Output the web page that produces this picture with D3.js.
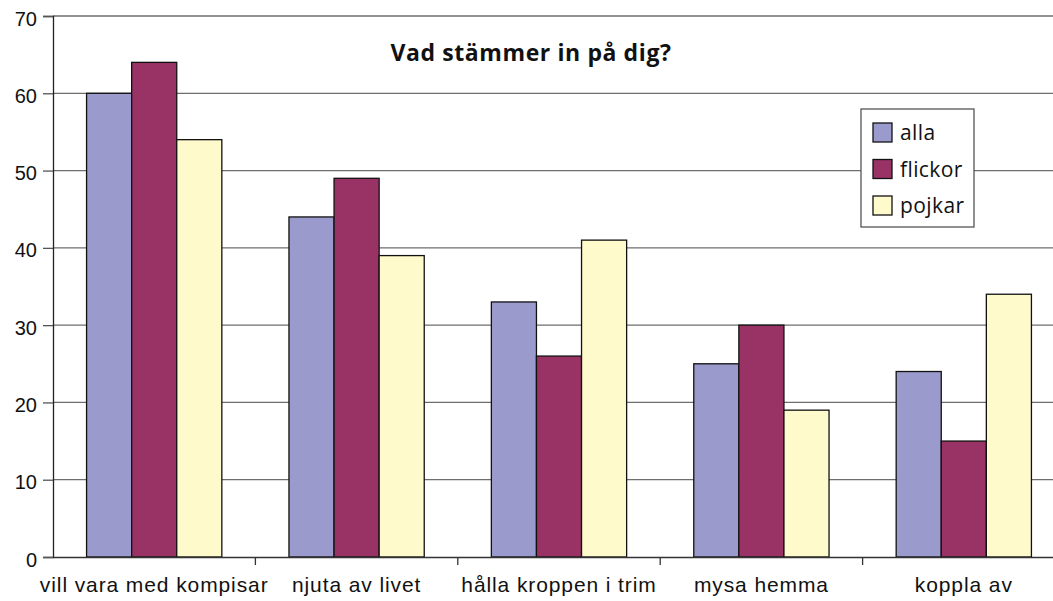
<!DOCTYPE html>
<html>
<head>
<meta charset="utf-8">
<script src="https://cdn.jsdelivr.net/npm/d3@7"></script>
<style>
  body { margin: 0; background: #fff; }
  svg { display: block; font-family: "Open Sans", "Noto Sans", sans-serif; }
</style>
</head>
<body>
<svg id="chart" width="1053" height="601"></svg>
<script>
// data
const categories = ["vill vara med kompisar", "njuta av livet", "hålla kroppen i trim", "mysa hemma", "koppla av"];
const seriesNames = ["alla", "flickor", "pojkar"];
const alla = [60, 44, 33, 25, 24];
const flickor = [64, 49, 26, 30, 15];
const pojkar = [54, 39, 41, 19, 34];
const yTicks = [0, 10, 20, 30, 40, 50, 60, 70];
const colors = ["#9a9acc", "#993366", "#fffacc"];

const values = [alla, flickor, pojkar];

const svg = d3.select("#chart");
const plotLeft = 53, plotRight = 1065, plotTop = 16, plotBottom = 557;

// scales
const x = d3.scaleBand().domain(categories).range([plotLeft, plotRight]).paddingInner(0).paddingOuter(0);
const xs = d3.scaleBand().domain(seriesNames).range([0, x.bandwidth()]).paddingOuter(0.5 * 67 / 45);
const y = d3.scaleLinear().domain([0, 70]).range([plotBottom, plotTop]);

// grid
svg.append("g")
  .selectAll("line")
  .data(yTicks.filter(d => d > 0))
  .join("line")
  .attr("x1", plotLeft).attr("x2", plotRight)
  .attr("y1", d => y(d)).attr("y2", d => y(d))
  .attr("stroke", "#6e6e6e").attr("stroke-width", 1.3);

// bars
const groups = svg.append("g")
  .selectAll("g")
  .data(categories)
  .join("g")
  .attr("transform", d => `translate(${x(d)},0)`);

groups.selectAll("rect")
  .data((d, i) => seriesNames.map((s, j) => ({ s, v: values[j][i], j })))
  .join("rect")
  .attr("x", d => xs(d.s))
  .attr("width", xs.bandwidth())
  .attr("y", d => y(d.v))
  .attr("height", d => y(0) - y(d.v))
  .attr("fill", d => colors[d.j])
  .attr("stroke", "#111")
  .attr("stroke-width", 1.3);

// y axis
const yAxis = svg.append("g")
  .attr("transform", `translate(${plotLeft},0)`)
  .call(d3.axisLeft(y).tickValues(yTicks).tickSize(10).tickPadding(6));
yAxis.select(".domain").attr("stroke", "#222").attr("stroke-width", 1.3);
yAxis.selectAll(".tick line").attr("stroke", "#555").attr("stroke-width", 1.3);
yAxis.selectAll("text").attr("font-size", 20).attr("fill", "#111")
  .attr("dy", "0.45em");

// x axis
const xAxis = svg.append("g")
  .attr("transform", `translate(0,${plotBottom})`)
  .call(d3.axisBottom(x).tickSize(0).tickPadding(20));
xAxis.select(".domain").attr("stroke", "#333").attr("stroke-width", 1.6);
xAxis.selectAll("text").attr("font-size", 21).attr("fill", "#111")
  .attr("letter-spacing", 0.9);

// category ticks between groups
svg.append("g")
  .selectAll("line")
  .data(categories.slice(1))
  .join("line")
  .attr("x1", d => x(d)).attr("x2", d => x(d))
  .attr("y1", plotBottom).attr("y2", plotBottom + 8)
  .attr("stroke", "#333").attr("stroke-width", 1.3);

// title
svg.append("text")
  .attr("x", 531).attr("y", 61)
  .attr("text-anchor", "middle")
  .attr("font-size", 23).attr("font-weight", "bold").attr("fill", "#111")
  .attr("letter-spacing", 0.6)
  .text("Vad stämmer in på dig?");

// legend
const legend = svg.append("g").attr("transform", "translate(861,109)");
legend.append("rect")
  .attr("width", 113).attr("height", 118)
  .attr("fill", "#fff").attr("stroke", "#555").attr("stroke-width", 1.3);
const items = legend.selectAll("g.item")
  .data(seriesNames)
  .join("g")
  .attr("class", "item")
  .attr("transform", (d, i) => `translate(12,${14 + i * 36.5})`);
items.append("rect")
  .attr("width", 19).attr("height", 19)
  .attr("fill", (d, i) => colors[i]).attr("stroke", "#111").attr("stroke-width", 1.3);
items.append("text")
  .attr("x", 27).attr("y", 17)
  .attr("font-size", 21).attr("fill", "#111")
  .attr("letter-spacing", 0.4)
  .text(d => d);
</script>
</body>
</html>
